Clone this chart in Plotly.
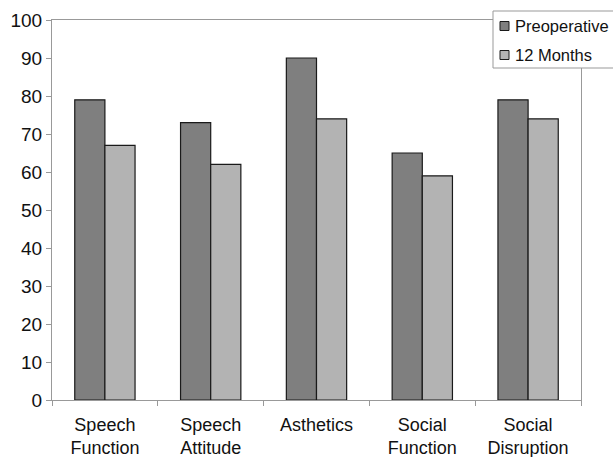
import plotly.graph_objects as go

categories = ["Speech<br>Function", "Speech<br>Attitude", "Asthetics", "Social<br>Function", "Social<br>Disruption"]
preoperative = [79, 73, 90, 65, 79]
months_12 = [67, 62, 74, 59, 74]
y_ticks = list(range(0, 101, 10))
series_names = ["Preoperative", "12 Months"]
series_colors = ["#7f7f7f", "#b3b3b3"]
outline = "#1a1a1a"

fig = go.Figure()
for name, vals, col in zip(series_names, [preoperative, months_12], series_colors):
    fig.add_trace(go.Bar(
        x=categories, y=vals, name=name, showlegend=False,
        marker=dict(color=col, line=dict(color=outline, width=1.2)),
    ))

# Legend drawn by hand: a box that runs off the right edge, small square keys
W, H = 613, 457
L, R, T, B = 52, 32, 20, 57
pw, ph = W - L - R, H - T - B


def px(x):
    return (x - L) / pw


def py(y):
    return (H - B - y) / ph


shapes = [dict(type="rect", xref="paper", yref="paper",
               x0=px(493), x1=px(640), y0=py(68), y1=py(11),
               line=dict(color="#999999", width=1), fillcolor="white", layer="above")]
annotations = []
for i, (name, col) in enumerate(zip(series_names, series_colors)):
    yc = 26 + 29 * i
    shapes.append(dict(type="rect", xref="paper", yref="paper",
                       x0=px(500), x1=px(509), y0=py(yc + 4.5), y1=py(yc - 4.5),
                       line=dict(color=outline, width=1), fillcolor=col, layer="above"))
    annotations.append(dict(xref="paper", yref="paper", x=px(513), y=py(yc),
                            xanchor="left", yanchor="middle", text=name, showarrow=False,
                            font=dict(size=16.5, color="#111111")))

fig.update_layout(
    width=W, height=H,
    margin=dict(l=L, r=R, t=T, b=B, autoexpand=False),
    paper_bgcolor="white", plot_bgcolor="white",
    barmode="group", bargap=0.43, bargroupgap=0,
    font=dict(family="Liberation Sans, Arial, sans-serif", size=18, color="#111111"),
    shapes=shapes, annotations=annotations,
    xaxis=dict(
        showline=True, linecolor="#999999", linewidth=1, mirror=True,
        ticks="outside", tickson="boundaries", ticklen=5, tickcolor="#999999",
        showgrid=False, ticklabelstandoff=8,
    ),
    yaxis=dict(
        range=[0, 100], tickvals=y_ticks, showline=True, linecolor="#999999",
        linewidth=1, mirror=True, ticks="outside", ticklen=5, tickcolor="#999999",
        showgrid=False, zeroline=False, tickfont=dict(size=19),
    ),
)

fig.write_html("out.html")
